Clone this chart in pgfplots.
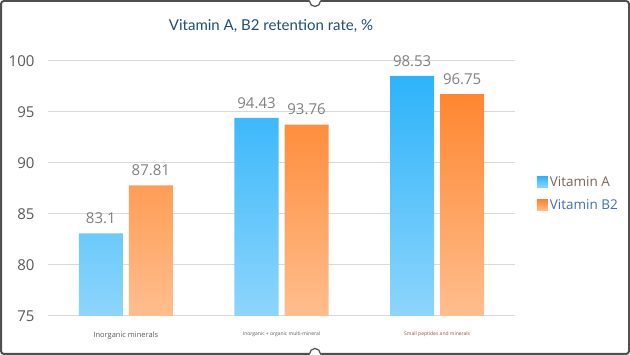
\documentclass[border=0pt]{standalone}
\usepackage{pgfplots}
\pgfplotsset{compat=1.18}
\usepackage{fontspec}
\setmainfont{Open Sans}
\newfontfamily\titlefont{Lato}
\definecolor{blueT}{HTML}{2DB3FA}
\definecolor{blueB}{HTML}{8DD5FC}
\definecolor{orT}{HTML}{FF8630}
\definecolor{orB}{HTML}{FFBE8E}
\definecolor{titleC}{HTML}{1F4E79}
\definecolor{tickC}{HTML}{595959}
\definecolor{lblC}{HTML}{808080}
\definecolor{gridC}{HTML}{D9D9D9}
\definecolor{legA}{HTML}{7A6555}
\definecolor{legB}{HTML}{3F6FB5}
\definecolor{frameC}{HTML}{505050}
\begin{document}
\begin{tikzpicture}[x=1pt,y=1pt]
\useasboundingbox (0,0) rectangle (630,355);
\fill[white] (0,0) rectangle (630,355);
\begin{axis}[
  at={(48pt,39pt)}, anchor=south west,
  scale only axis, width=467pt, height=255pt,
  xmin=-0.5, xmax=2.5, ymin=75, ymax=100,
  ybar, bar width=44pt,
  ytick={75,80,85,90,95,100},
  xtick={0,1,2},
  xticklabels={{\fontsize{7.5}{8}\selectfont\color{tickC}Inorganic minerals},
               {\fontsize{5}{6}\selectfont\color{tickC}Inorganic + organic multi-mineral},
               {\fontsize{5}{6}\selectfont\color{legA!80!red}Small peptides and minerals}},
  major tick length=0pt,
  ymajorgrids, grid style={gridC, line width=1pt},
  axis x line*=bottom, axis y line*=left,
  x axis line style={gridC, line width=1pt, -},
  y axis line style={draw=none},
  yticklabel style={font=\fontsize{15}{16}\selectfont, color=tickC, xshift=-10pt},
  xticklabel style={yshift=-12pt},
  /pgf/number format/assume math mode=true,
  clip=false,
  nodes near coords,
  nodes near coords style={font=\fontsize{15}{16}\selectfont, color=lblC, yshift=6pt},
  point meta=explicit symbolic,
  legend style={at={(1.04,0.565)}, anchor=north west, draw=none, fill=none,
    font=\fontsize{13.5}{14}\selectfont, row sep=8pt},
  legend cell align=left,
]
\addplot[bar shift=-25pt, draw=none, top color=blueT, bottom color=blueB,
  area legend, legend image code/.code={\fill[top color=blueT,bottom color=blueB] (0pt,-5.5pt) rectangle (11pt,5.5pt);}]
  coordinates {(0,83.1) [83.1] (1,94.43) [94.43] (2,98.53) [98.53]};
\addlegendentry{\textcolor{legA}{Vitamin A}}
\addplot[bar shift=25pt, draw=none, top color=orT, bottom color=orB,
  area legend, legend image code/.code={\fill[top color=orT,bottom color=orB] (0pt,-5.5pt) rectangle (11pt,5.5pt);}]
  coordinates {(0,87.81) [87.81] (1,93.76) [93.76] (2,96.75) [96.75]};
\addlegendentry{\textcolor{legB}{Vitamin B2}}
\end{axis}
\node[font=\titlefont\fontsize{15}{16}\selectfont, color=titleC] at (271,329) {Vitamin A, B2 retention rate, \%};
\draw[frameC, line width=2pt, rounded corners=3pt] (1,1) rectangle (629,354);
\fill[white] (315,354) circle (5.5);
\draw[frameC, line width=1.2pt] (309.5,354) arc (180:360:5.5);
\fill[white] (315,1) circle (5.5);
\draw[frameC, line width=1.2pt] (309.5,1) arc (180:0:5.5);
\end{tikzpicture}
\end{document}
